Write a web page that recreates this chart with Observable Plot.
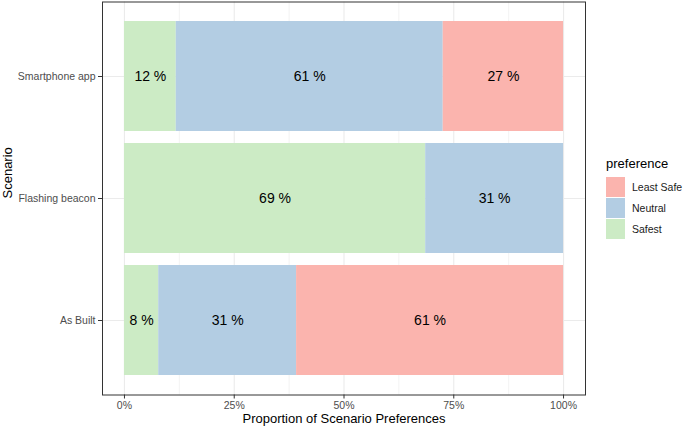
<!DOCTYPE html>
<html><head><meta charset="utf-8">
<script src="https://cdn.jsdelivr.net/npm/d3@7"></script>
<script src="https://cdn.jsdelivr.net/npm/@observablehq/plot@0.6"></script>
<style>
body{margin:0;background:#fff;font-family:"Liberation Sans",Arial,sans-serif;}
#wrap{position:relative;width:685px;height:428px;overflow:hidden;}
#wrap svg{display:block;}
.lg{position:absolute;}
</style></head><body><div id="wrap"></div>
<script>
const scenarios = ["Smartphone app", "Flashing beacon", "As Built"];
const preferences = ["Safest", "Neutral", "Least Safe"];
const legendOrder = ["Least Safe", "Neutral", "Safest"];
const colors = ["#CCEBC5", "#B3CDE3", "#FBB4AE"];
const safest = [0.118, 0.686, 0.078];
const neutral = [0.608, 0.314, 0.314];
const leastSafe = [0.274, 0, 0.608];
const xTicks = [0, 0.25, 0.5, 0.75, 1];
const xTickLabels = ["0%", "25%", "50%", "75%", "100%"];
const xMinor = [0.125, 0.375, 0.625, 0.875];

const series = [safest, neutral, leastSafe];
const rows = [];
scenarios.forEach((s, i) => {
  preferences.forEach((p, j) => {
    const v = series[j][i];
    if (v > 0) rows.push({scenario: s, preference: p, value: v});
  });
});

const font = "Liberation Sans, Arial, sans-serif";
const chart = Plot.plot({
  width: 685, height: 428,
  marginLeft: 102, marginRight: 100, marginTop: 1.5, marginBottom: 33.5,
  style: {fontFamily: font, background: "white", overflow: "visible"},
  x: {domain: [-0.05, 1.05], ticks: xTicks, label: null},
  y: {domain: scenarios, paddingInner: 0.1, paddingOuter: 0.15, label: null},
  color: {domain: preferences, range: colors},
  marks: [
    Plot.gridX(xMinor, {stroke: "#EBEBEB", strokeOpacity: 1, strokeWidth: 0.6}),
    Plot.gridX(xTicks, {stroke: "#EBEBEB", strokeOpacity: 1, strokeWidth: 1.1}),
    Plot.gridY(scenarios, {stroke: "#EBEBEB", strokeOpacity: 1, strokeWidth: 1.1}),
    Plot.barX(rows, Plot.stackX({x: "value", y: "scenario", fill: "preference"})),
    Plot.text(rows, Plot.stackX({x: "value", y: "scenario", z: "preference",
      text: d => Math.round(d.value * 100) + " %", fontSize: 14, fill: "black"})),
    Plot.frame({stroke: "#333333", strokeWidth: 1}),
    Plot.axisX(xTicks, {tickFormat: d => xTickLabels[xTicks.indexOf(d)], tickSize: 4, tickPadding: 3,
      fontSize: 10.5, stroke: "#333333", fill: "#4D4D4D", label: null}),
    Plot.axisY(scenarios, {tickSize: 4, tickPadding: 3, fontSize: 10.5, stroke: "#333333", fill: "#4D4D4D", label: null}),
    Plot.text(["Proportion of Scenario Preferences"], {frameAnchor: "bottom", dy: 27.5, fontSize: 13, fill: "black"}),
    Plot.text(["Scenario"], {frameAnchor: "left", dx: -94.5, rotate: -90, fontSize: 13, fill: "black"})
  ]
});
const wrap = document.getElementById("wrap");
wrap.appendChild(chart);

// legend
const colorOf = p => colors[preferences.indexOf(p)];
const title = document.createElement("div");
title.className = "lg";
title.textContent = "preference";
title.style.cssText = "left:606px;top:156px;font-size:13px;color:#000;line-height:16px;";
wrap.appendChild(title);
legendOrder.forEach((p, i) => {
  const top = 177 + i * 21;
  const sw = document.createElement("div");
  sw.className = "lg";
  sw.style.cssText = `left:606px;top:${top}px;width:19px;height:19.5px;background:${colorOf(p)};`;
  wrap.appendChild(sw);
  const lb = document.createElement("div");
  lb.className = "lg";
  lb.textContent = p;
  lb.style.cssText = `left:632px;top:${top + 3}px;font-size:10.5px;color:#1a1a1a;line-height:14px;`;
  wrap.appendChild(lb);
});
</script>
</body></html>
